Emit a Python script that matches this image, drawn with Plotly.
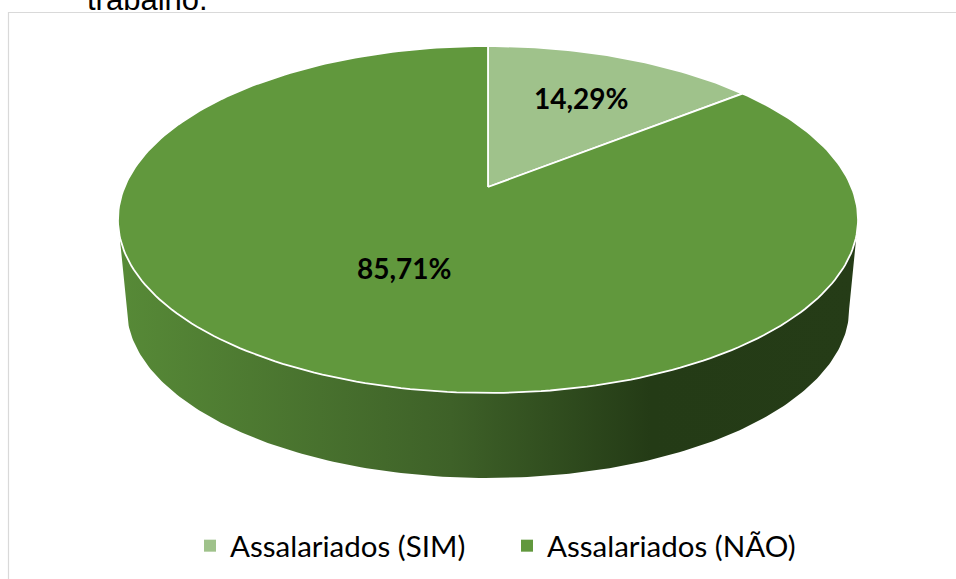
import numpy as np
import plotly.graph_objects as go

# data
categories = ["Assalariados (SIM)", "Assalariados (NÃO)"]
percentages = [14.29, 85.71]
slice_colors = ["#9fc28b", "#61983d"]

# page / pie geometry (pixels)
W, H = 956, 579
CX, CY = 488, 187                 # projected centre of the pie top
RX, RY, K = 363.5, 167.4, 0.1873  # perspective ellipse of the top face
BOTTOM_SCALE, BOTTOM_CY = 0.976, 277
LABEL_R = [0.655, 0.49]
SIDE_COLORS = [[0, "#578a37"], [0.45, "#3e6128"], [0.72, "#243b16"], [1, "#253c17"]]


def project(theta, r=1.0, cy=CY, scale=1.0):
    """map an angle (clockwise from 12 o'clock) on the pie disc to the page"""
    u = r * np.sin(theta)
    v = r * np.cos(theta)
    d = 1 + K * v
    return CX + scale * RX * u / d, cy - scale * RY * v / d


def fmt(v):
    return f"{v:.2f}".replace(".", ",") + "%"


fig = go.Figure()

# side of the cylinder (only the front part is visible)
t_ext = np.arccos(-K)
t = np.linspace(t_ext, 2 * np.pi - t_ext, 200)
tx, ty = project(t)
bx, by = project(t[::-1], cy=BOTTOM_CY, scale=BOTTOM_SCALE)
sx = np.concatenate([tx, bx, tx[:1]])
sy = np.concatenate([ty, by, ty[:1]])
fig.add_trace(go.Scatter(
    x=sx, y=sy, mode="lines", fill="toself", line=dict(width=0),
    fillgradient=dict(type="horizontal", colorscale=SIDE_COLORS,
                      start=float(sx.min()), stop=float(sx.max())),
    hoverinfo="skip", showlegend=False))

# top face slices
total = sum(percentages)
start = 0.0
label_pos = []
for i, (cat, val) in enumerate(zip(categories, percentages)):
    end = start + 2 * np.pi * val / total
    a = np.linspace(start, end, max(int(val * 3), 20))
    ax, ay = project(a)
    x = np.concatenate([[CX], ax, [CX]])
    y = np.concatenate([[CY], ay, [CY]])
    fig.add_trace(go.Scatter(
        x=x, y=y, mode="lines", fill="toself", fillcolor=slice_colors[i],
        line=dict(color="white", width=1.8), name=cat,
        hoverinfo="name", showlegend=False))
    label_pos.append(project((start + end) / 2, r=LABEL_R[i]))
    start = end

# legend entries
for cat, col in zip(categories, slice_colors):
    fig.add_trace(go.Scatter(
        x=[None], y=[None], mode="markers", name=cat,
        marker=dict(symbol="square", size=12, color=col)))

for (lx, ly), val in zip(label_pos, percentages):
    fig.add_annotation(
        x=lx, y=ly, text=f"<b>{fmt(val)}</b>", showarrow=False,
        font=dict(family="Lato", size=28, color="black"))

# caption cut off at the top of the page
fig.add_annotation(
    xref="paper", yref="paper", x=85 / W, y=1 - 19 / H,
    xanchor="left", yanchor="bottom", text="trabalho.", showarrow=False,
    font=dict(family="Liberation Sans", size=31, color="black"))

# chart frame
fig.add_shape(type="rect", x0=8.5, y0=12.5, x1=W + 5, y1=H + 5,
              line=dict(color="#d9d9d9", width=1.2), layer="below")

fig.update_layout(
    width=W, height=H, autosize=False,
    margin=dict(l=0, r=0, t=0, b=0),
    paper_bgcolor="white", plot_bgcolor="white",
    xaxis=dict(range=[0, W], visible=False, fixedrange=True),
    yaxis=dict(range=[H, 0], visible=False, fixedrange=True),
    legend=dict(orientation="h", x=(W / 2 + 29) / W, xanchor="center",
                y=1 - 546 / H, yanchor="middle", entrywidth=272,
                font=dict(family="Lato", size=29.5, color="black"),
                bgcolor="rgba(0,0,0,0)"),
)

fig.write_html("out.html", config={"displayModeBar": False},
               post_script="document.body.style.margin='0px';")
